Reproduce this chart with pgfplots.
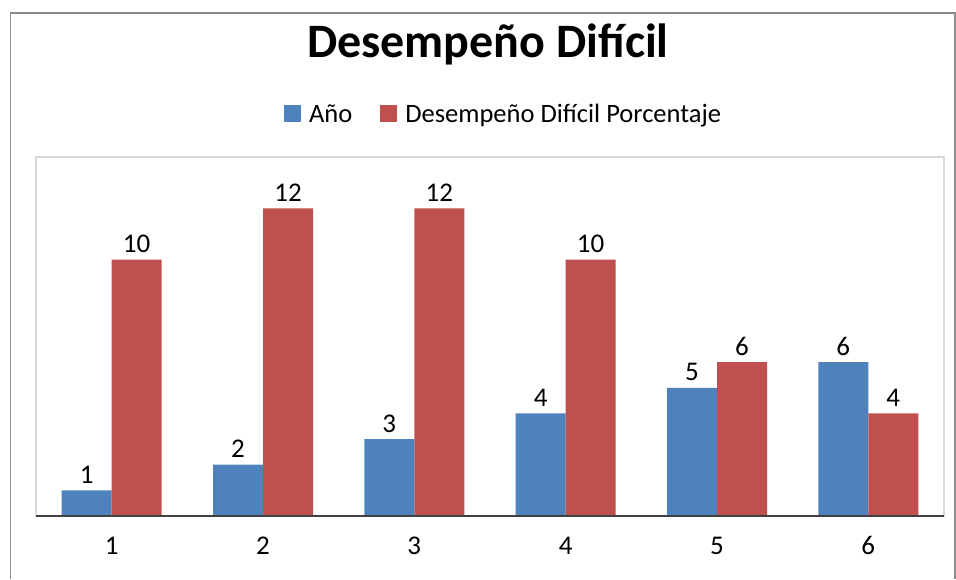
\documentclass[border=0pt]{standalone}
\usepackage{pgfplots}
\pgfplotsset{compat=1.18}
\usepackage{fontspec}
\setmainfont{Carlito}
\definecolor{cblue}{HTML}{4F81BD}
\definecolor{cred}{HTML}{C0504D}
\begin{document}
\begin{tikzpicture}[x=1pt,y=1pt]
\useasboundingbox (0,0) rectangle (956,579);
\draw[line width=1.5pt,color=black!45] (10.5,0) -- (10.5,566) -- (955,566) -- (955,0);
\node[font=\fontsize{48}{56}\selectfont\bfseries] at (488,535) {Desempeño Difícil};
\begin{axis}[
  at={(36pt,63pt)}, anchor=south west,
  scale only axis, width=908pt, height=359pt,
  xmin=0.5, xmax=6.5, ymin=0, ymax=14,
  ybar=0pt, bar width=50pt,
  axis line style={draw=black!15, line width=1.5pt},
  xtick={1,2,3,4,5,6}, ytick=\empty,
  major tick length=0pt,
  /pgf/number format/assume math mode=true,
  tick label style={font=\fontsize{27}{32}\selectfont},
  xticklabel style={anchor=base, inner sep=0pt, yshift=-38pt},
  nodes near coords,
  nodes near coords style={font=\fontsize{27}{32}\selectfont, color=black, anchor=base, inner sep=0pt, yshift=7pt},
  legend columns=-1,
  legend style={at={(0.515,1.12)}, anchor=center, draw=none, fill=none,
    font=\fontsize{26.5}{30}\selectfont,
    /tikz/every odd column/.append style={column sep=6pt},
    /tikz/every even column/.append style={column sep=26pt},
    inner sep=0pt},
  legend image code/.code={\fill[#1] (0pt,-8pt) rectangle (17pt,9pt);},
  clip=false,
]
\addplot[fill=cblue, draw=none] coordinates {(1,1) (2,2) (3,3) (4,4) (5,5) (6,6)};
\addplot[fill=cred, draw=none] coordinates {(1,10) (2,12) (3,12) (4,10) (5,6) (6,4)};
\legend{Año, Desempeño Difícil Porcentaje}
\draw[line width=2pt, color=black!75] (rel axis cs:0,0) -- (rel axis cs:1,0);
\end{axis}
\end{tikzpicture}
\end{document}
